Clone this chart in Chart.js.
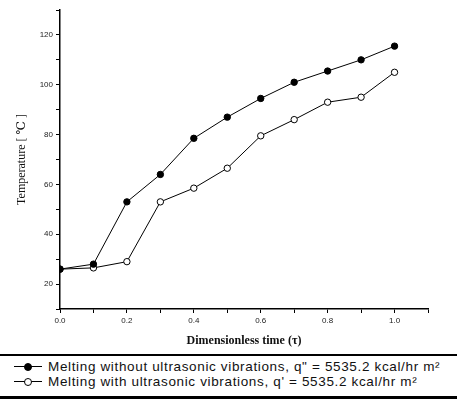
<!DOCTYPE html>
<html>
<head>
<meta charset="utf-8">
<script src="https://cdn.jsdelivr.net/npm/chart.js@4"></script>
<style>
  body { margin: 0; background: #fff; }
  #wrap { position: relative; width: 457px; height: 400px; }
  #legend { position: absolute; left: 0; top: 354px; width: 457px; height: 40px;
            border-top: 2px solid #000; border-bottom: 3px solid #000;
            font-family: "Liberation Sans", Arial, sans-serif; font-size: 13.5px; letter-spacing: 0.65px; color: #111; }
  .item { position: absolute; left: 14px; height: 15px; line-height: 15px; }
  .mk { position: absolute; left: 0; top: 7px; width: 28px; border-top: 1px solid #000; }
  .dot { position: absolute; left: 10px; top: -4px; width: 6px; height: 6px; border: 1px solid #000; border-radius: 50%; }
  .txt { position: absolute; left: 34px; top: 0; white-space: nowrap; }
</style>
</head>
<body>
<div id="wrap">
  <canvas id="chart" width="457" height="352"></canvas>
  <div id="legend"></div>
</div>
<script>
// Daten
var zeit = [0.0, 0.1, 0.2, 0.3, 0.4, 0.5, 0.6, 0.7, 0.8, 0.9, 1.0];
var ohneUltraschall = [26, 28, 53, 64, 78.5, 87, 94.5, 101, 105.5, 110, 115.5];
var mitUltraschall = [26, 26.5, 29, 53, 58.5, 66.5, 79.5, 86, 93, 95, 105];
var serienNamen = [
    "Melting without ultrasonic vibrations, q\" = 5535.2 kcal/hr m\u00b2",
    "Melting with ultrasonic vibrations, q'  = 5535.2 kcal/hr m\u00b2"
];
var xTitel = "Dimensionless time (\u03c4)";
var yTitel = "Temperature [ \u2103 ]";

function punkte(werte) {
    var arr = [];
    zeit.forEach((t, i) => arr.push({ x: t, y: werte[i] }));
    return arr;
}

var tickFont = { family: "'Liberation Sans', Arial, sans-serif", size: 8 };

var myChart = new Chart(document.getElementById("chart"), {
    type: 'line',
    data: {
        datasets: [{
            label: serienNamen[0],
            data: punkte(ohneUltraschall),
            borderColor: '#000',
            borderWidth: 1,
            backgroundColor: '#000',
            pointBackgroundColor: '#000',
            pointBorderColor: '#000',
            pointRadius: 3.2,
            pointBorderWidth: 1
        }, {
            label: serienNamen[1],
            data: punkte(mitUltraschall),
            borderColor: '#000',
            borderWidth: 1,
            backgroundColor: '#fff',
            pointBackgroundColor: '#fff',
            pointBorderColor: '#000',
            pointRadius: 3.2,
            pointBorderWidth: 1
        }]
    },
    options: {
        responsive: false,
        animation: false,
        layout: { padding: { left: 0, right: 29, top: 10, bottom: 0 } },
        plugins: { legend: { display: false }, tooltip: { enabled: false } },
        scales: {
            x: {
                type: 'linear',
                min: 0, max: 1.1,
                afterFit: s => { s.height = 43; },
                ticks: {
                    stepSize: 0.1, color: '#222', font: tickFont, padding: 3,
                    maxRotation: 0, autoSkip: false,
                    callback: v => (Math.round(v * 10) % 2 == 0 && v < 1.05) ? v.toFixed(1) : ''
                },
                grid: { drawOnChartArea: false, color: '#000', tickLength: 4, tickColor: '#000' },
                border: { color: '#000', width: 1.5 },
                title: {
                    display: true, text: xTitel, color: '#111',
                    font: { family: "'Liberation Serif', 'DejaVu Serif', serif", size: 12, weight: 'bold' },
                    padding: { top: 2, bottom: 4 }
                }
            },
            y: {
                min: 10, max: 130,
                afterFit: s => { s.width = 60; },
                ticks: {
                    stepSize: 10, color: '#222', font: tickFont, padding: 3,
                    callback: v => (v % 20 == 0 && v >= 20 && v <= 120) ? v : ''
                },
                grid: { drawOnChartArea: false, color: '#000', tickLength: 4, tickColor: '#000' },
                border: { color: '#000', width: 1.5 },
                title: {
                    display: true, text: yTitel, color: '#111',
                    font: { family: "'Liberation Serif', 'DejaVu Serif', serif", size: 12 },
                    padding: { top: 15, bottom: 0 }
                }
            }
        }
    }
});

// Legende unten
var leg = document.getElementById("legend");
serienNamen.forEach((name, i) => {
    var d = document.createElement("div");
    d.className = "item";
    d.style.top = (3 + i * 15) + "px";
    var fill = i == 0 ? '#000' : '#fff';
    d.innerHTML = '<div class="mk"><div class="dot" style="background:' + fill + '"></div></div>' +
        '<span class="txt">' + name.replace(/</g, '&lt;') + '</span>';
    leg.appendChild(d);
});
</script>
</body>
</html>
